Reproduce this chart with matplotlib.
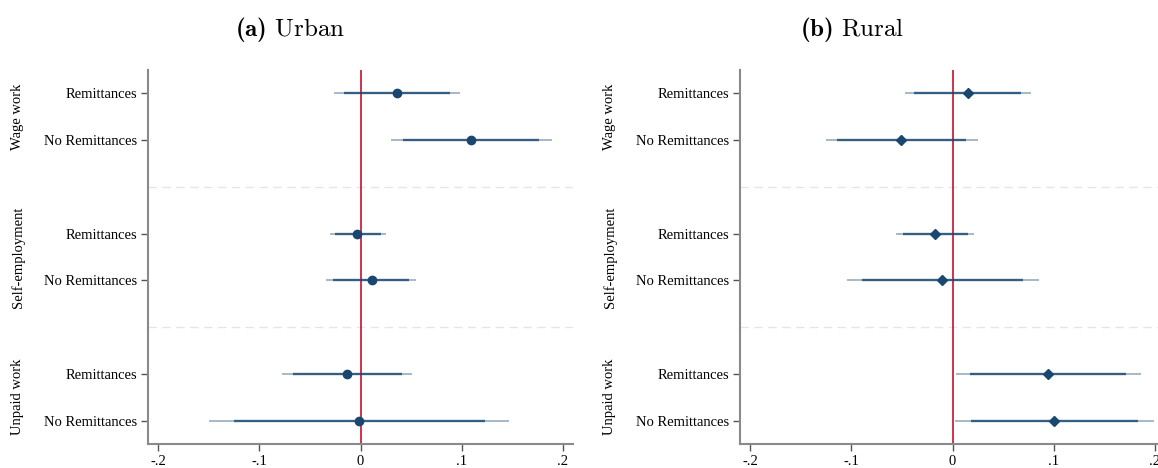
import matplotlib.pyplot as plt
import matplotlib.transforms as mtransforms

plt.rcParams["font.family"] = ["Liberation Serif", "DejaVu Serif"]
plt.rcParams["mathtext.fontset"] = "custom"
plt.rcParams["mathtext.rm"] = "cmr10"
plt.rcParams["mathtext.bf"] = "cmb10"

# Groups and row labels, top to bottom
groups = ["Wage work", "Self-employment", "Unpaid work"]
rows = ["Remittances", "No Remittances"]

# Urban: point estimates, 90% CI (thick) and 95% CI (thin), order = wage R, wage NR, self R, self NR, unpaid R, unpaid NR
urban_est = [0.036, 0.109, -0.003, 0.011, -0.013, -0.001]
urban_ci90_lo = [-0.016, 0.042, -0.025, -0.027, -0.067, -0.125]
urban_ci90_hi = [0.088, 0.176, 0.020, 0.048, 0.041, 0.123]
urban_ci95_lo = [-0.026, 0.030, -0.030, -0.034, -0.078, -0.150]
urban_ci95_hi = [0.098, 0.189, 0.025, 0.055, 0.051, 0.147]

# Rural
rural_est = [0.015, -0.051, -0.017, -0.010, 0.094, 0.100]
rural_ci90_lo = [-0.038, -0.114, -0.049, -0.089, 0.017, 0.018]
rural_ci90_hi = [0.068, 0.013, 0.015, 0.070, 0.171, 0.183]
rural_ci95_lo = [-0.047, -0.125, -0.056, -0.104, 0.003, 0.002]
rural_ci95_hi = [0.078, 0.025, 0.021, 0.085, 0.186, 0.199]

xticks = [-0.2, -0.1, 0, 0.1, 0.2]
xtick_labels = ["-.2", "-.1", "0", ".1", ".2"]

navy = "#1a476f"
red = "#c8102e"
spine_grey = "#8a8a8a"

# y positions: two rows per group, one empty slot between groups
ypos = []
for g in range(len(groups)):
    ypos += [3 * g + 1, 3 * g + 2]

fig = plt.figure(figsize=(11.58, 4.68), dpi=100)
ax_u = fig.add_axes([148 / 1158, 0.0513, 425 / 1158, 0.799])
ax_r = fig.add_axes([740 / 1158, 0.0513, 425 / 1158, 0.799])

panels = [
    (ax_u, urban_est, urban_ci90_lo, urban_ci90_hi, urban_ci95_lo, urban_ci95_hi, "o", 6),
    (ax_r, rural_est, rural_ci90_lo, rural_ci90_hi, rural_ci95_lo, rural_ci95_hi, "D", 5),
]

for ax, est, lo90, hi90, lo95, hi95, marker, ms in panels:
    # separators between groups
    for g in range(1, len(groups)):
        ax.axhline(3 * g, color="#dfe6ec", lw=1, ls=(0, (6, 4)), zorder=1)
    ax.axvline(0, color=red, lw=1.2, zorder=2)
    ax.hlines(ypos, lo95, hi95, color=navy, lw=1.2, alpha=0.45, zorder=3)
    ax.hlines(ypos, lo90, hi90, color=navy, lw=1.7, alpha=0.8, zorder=4)
    ax.plot(est, ypos, ls="none", marker=marker, ms=ms, color=navy, zorder=5)

    ax.set_xlim(-0.21, 0.21)
    ax.set_ylim(8.5, 0.5)
    ax.set_xticks(xticks)
    ax.set_xticklabels(xtick_labels, fontsize=10.5)
    ax.set_yticks(ypos)
    ax.set_yticklabels(rows * len(groups), fontsize=10.5)
    ax.tick_params(length=5, width=1, color="#555555", pad=3)
    for side in ["top", "right"]:
        ax.spines[side].set_visible(False)
    for side in ["left", "bottom"]:
        ax.spines[side].set_color(spine_grey)
        ax.spines[side].set_linewidth(1.5)

    trans = mtransforms.blended_transform_factory(ax.transAxes, ax.transData)
    for g, name in enumerate(groups):
        ax.text(-0.306, 3 * g + 1.5, name, transform=trans, rotation=90,
                ha="center", va="center", fontsize=10.5)

fig.text(290 / 1158, 1 - 30 / 468, r"$\mathbf{(a)}\ \mathrm{Urban}$", ha="center", va="center", fontsize=18)
fig.text(852 / 1158, 1 - 30 / 468, r"$\mathbf{(b)}\ \mathrm{Rural}$", ha="center", va="center", fontsize=18)

fig.savefig("out.png", dpi=100)
